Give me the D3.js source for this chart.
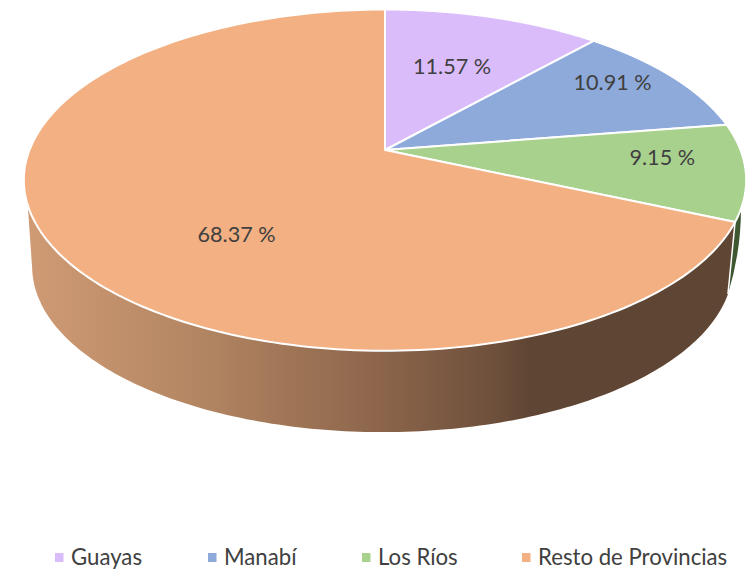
<!DOCTYPE html>
<html><head><meta charset="utf-8">
<script src="https://cdn.jsdelivr.net/npm/d3@7/dist/d3.min.js"></script>
<style>html,body{margin:0;background:#fff}svg{display:block}text{font-family:Lato,"Open Sans",sans-serif;fill:#404040}</style>
</head><body><svg id="c" width="753" height="570"></svg>
<script>
const categories = ["Guayas","Manabí","Los Ríos","Resto de Provincias"];
const values = [11.57,10.91,9.15,68.37];
const labels = ["11.57 %","10.91 %","9.15 %","68.37 %"];
const topColors = ["#dbbcfb","#8eaadb","#a9d18e","#f3b082"];

const cx=385,cy=150,k=-0.1765,a=355.5,b=165.3;
const svg=d3.select("#c");
const pie=d3.pie().value(d=>d).sort(null);
const arcs=pie(values);
const deg=Math.PI/180;

// perspective projection of a unit-disc point (r,theta) onto the page
const sx=d3.scaleLinear().domain([-1,1]).range([cx-a,cx+a]);
const sy=d3.scaleLinear().domain([-1,1]).range([cy-b,cy+b]);
function proj(theta,r=1){
  const u=r*Math.sin(theta),v=-r*Math.cos(theta),d=1+k*v;
  return [sx(u/d),sy(v/d)];
}
// bottom rim: top rim scaled slightly and dropped
const ellCy=180,botS=0.97,botCx=382.5,botCy=266.5;
function projBottom(theta){
  const p=proj(theta);
  return [botCx+(p[0]-cx)*botS, botCy+(p[1]-ellCy)*botS];
}
const line=d3.line();
const samples=(t0,t1,n=160)=>d3.range(n+1).map(i=>t0+(t1-t0)*i/n);

const grad=svg.append("defs").append("linearGradient").attr("id","wall").attr("gradientUnits","userSpaceOnUse")
  .attr("x1",24).attr("x2",745).attr("y1",0).attr("y2",0);
[[0,"#d09b75"],[0.25,"#b28562"],[0.5,"#8b644a"],[0.66,"#6c4f3b"],[0.7,"#5f4533"],[1,"#5f4533"]]
  .forEach(s=>grad.append("stop").attr("offset",s[0]).attr("stop-color",s[1]));

// Los Ríos wall: thin sliver visible at the right edge, slightly bulged outwards
const rios=arcs[2], seamShift=4.4*deg, riosTop=109.6*deg;
const seamBottom=projBottom(rios.endAngle-seamShift);
const riosStart=proj(riosTop);
svg.append("path")
  .attr("d",line(samples(riosTop,rios.endAngle,20).map(t=>proj(t)).concat([seamBottom]))
     +`Q${riosStart[0]},${riosStart[1]+43} ${riosStart[0]},${riosStart[1]}Z`)
  .attr("fill","#3f5730");

// Resto wall: top rim and bottom rim, joined by a straight left silhouette
const resto=arcs[3], topEnd=251.6*deg, botEnd=259*deg;
const restoPts=samples(resto.startAngle,topEnd).map(t=>proj(t))
  .concat(samples(botEnd,resto.startAngle-seamShift).map(projBottom));
svg.append("path").attr("d",line(restoPts)+"Z").attr("fill","url(#wall)");
svg.append("path").attr("d",line([proj(resto.startAngle),seamBottom]))
  .attr("stroke","#fff").attr("stroke-width",1.5).attr("fill","none");

// top faces
arcs.forEach((d,i)=>{
  const pts=[proj(0,0)].concat(samples(d.startAngle,d.endAngle,200).map(t=>proj(t)));
  svg.append("path").attr("d",line(pts)+"Z").attr("fill",topColors[i])
    .attr("stroke","#fff").attr("stroke-width",2).attr("stroke-linejoin","round");
});

// data labels: point on the disc plus manual nudge
const labelR=[0.6,0.8,0.8,0.5], nudge=[[-2,0],[-6,-9],[-10,-10],[8,37]];
arcs.forEach((d,i)=>{
  const p=proj((d.startAngle+d.endAngle)/2,labelR[i]);
  svg.append("text").attr("x",p[0]+nudge[i][0]).attr("y",p[1]+nudge[i][1])
    .attr("text-anchor","middle").attr("dominant-baseline","central")
    .attr("font-size",21.6).text(labels[i]);
});

// legend
const legX=[71,224,378,538];
const lg=svg.append("g");
categories.forEach((c,i)=>{
  lg.append("rect").attr("x",legX[i]-16).attr("y",553).attr("width",8.5).attr("height",9).attr("fill",topColors[i]);
  lg.append("text").attr("x",legX[i]).attr("y",565).attr("font-size",22.2).text(c);
});
</script></body></html>
